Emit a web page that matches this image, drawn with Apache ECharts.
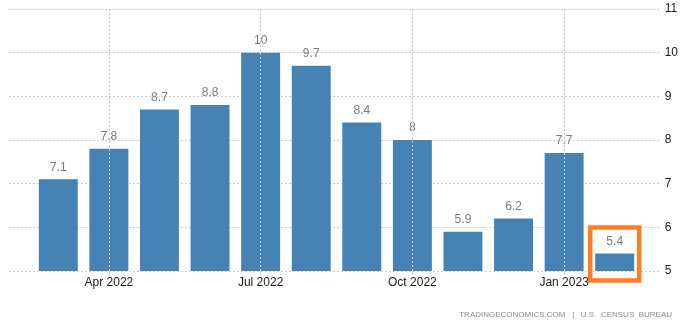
<!DOCTYPE html>
<html>
<head>
<meta charset="utf-8">
<script src="https://cdn.jsdelivr.net/npm/echarts@6/dist/echarts.min.js"></script>
<style>
html,body{margin:0;padding:0;background:#fff;}
#c{width:681px;height:323px;}
</style>
</head>
<body>
<div id="c"></div>
<script>
const categories = ['Mar 2022','Apr 2022','May 2022','Jun 2022','Jul 2022','Aug 2022','Sep 2022','Oct 2022','Nov 2022','Dec 2022','Jan 2023','Feb 2023'];
const values = [7.1, 7.8, 8.7, 8.8, 10, 9.7, 8.4, 8, 5.9, 6.2, 7.7, 5.4];
const labeledMonths = ['Apr 2022','Jul 2022','Oct 2022','Jan 2023'];
const yMin = 5, yMax = 11, yStep = 1;
const sourceText = 'TRADINGECONOMICS.COM   |   U.S.  CENSUS  BUREAU';

const FONT = '"Liberation Sans", Arial, sans-serif';
const chart = echarts.init(document.getElementById('c'), null, {renderer:'canvas'});
const showLabel = (i, v) => labeledMonths.indexOf(categories[i]) >= 0;

chart.setOption({
  animation: false,
  backgroundColor: '#fff',
  grid: [
    {left: 9, right: 19, top: 9, bottom: 52},
    {left: 33, right: 41, top: 9, bottom: 52}
  ],
  xAxis: [
    {type: 'value', gridIndex: 0, show: false, min: 0, max: 1},
    {
      type: 'category', gridIndex: 1, data: categories,
      axisLine: {show: false},
      axisTick: {show: true, alignWithLabel: true, interval: showLabel, length: 4, lineStyle: {color: '#ccc'}},
      axisLabel: {interval: showLabel, color: '#1a1a1a', fontSize: 12, fontFamily: FONT, margin: 6},
      splitLine: {show: false}
    }
  ],
  yAxis: [
    {
      type: 'value', gridIndex: 0, position: 'right', min: yMin, max: yMax, interval: yStep,
      axisLine: {show: false}, axisTick: {show: false},
      axisLabel: {color: '#1a1a1a', fontSize: 12, fontFamily: FONT, margin: 5},
      splitLine: {show: true, lineStyle: {color: '#ccc', type: [2, 2], width: 1}}
    },
    {type: 'value', gridIndex: 1, show: false, min: yMin, max: yMax, interval: yStep}
  ],
  series: [{
    type: 'bar', xAxisIndex: 1, yAxisIndex: 1,
    data: values,
    barCategoryGap: '23%',
    itemStyle: {color: '#4682b4'},
    label: {show: true, position: 'top', distance: 6, color: '#7a7a86', fontSize: 12, fontFamily: FONT},
    markLine: {
      silent: true, symbol: 'none', animation: false,
      label: {show: false},
      lineStyle: {color: '#ccc', type: [2, 2], width: 1},
      data: labeledMonths.map(m => ({xAxis: m}))
    }
  }]
});

// highlight box around the last bar
const lastIdx = values.length - 1;
const barTop = chart.convertToPixel({xAxisIndex: 1, yAxisIndex: 1}, [lastIdx, values[lastIdx]]);
const barBase = chart.convertToPixel({xAxisIndex: 1, yAxisIndex: 1}, [lastIdx, yMin]);
chart.setOption({
  graphic: [{
    type: 'text', right: 9, bottom: 4,
    style: {text: sourceText, fill: '#8a8a8a', font: '8px ' + FONT}
  }, {
    type: 'rect', silent: true, z: 100,
    shape: {x: barTop[0] - 24.5, y: barTop[1] - 26, width: 49, height: (barBase[1] + 9.5) - (barTop[1] - 26)},
    style: {fill: 'none', stroke: '#ff7d24', lineWidth: 4.5}
  }]
});
</script>
</body>
</html>
